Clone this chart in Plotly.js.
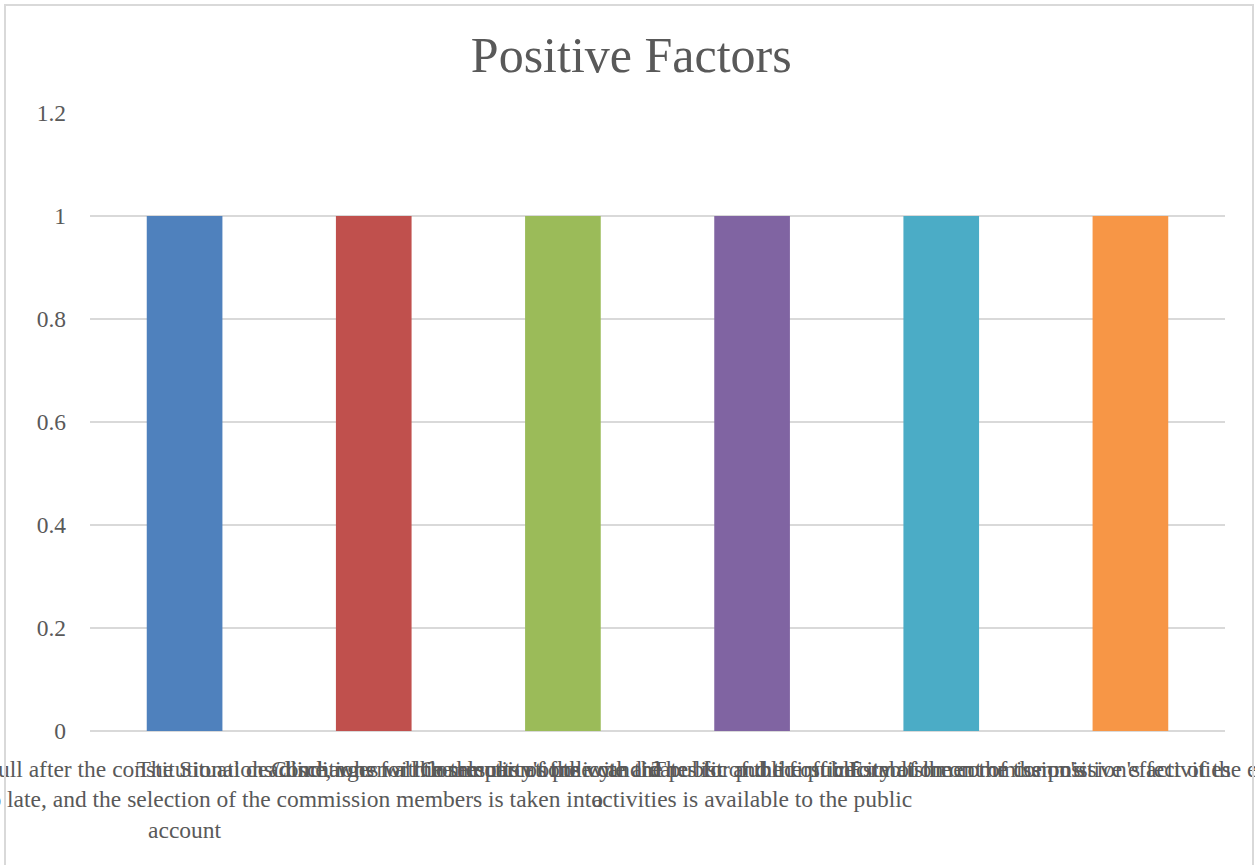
<!DOCTYPE html>
<html>
<head>
<meta charset="utf-8">
<script src="https://cdn.plot.ly/plotly-3.0.1.min.js"></script>
<style>
  html, body { margin: 0; padding: 0; background: #fff; overflow: hidden; }
  #chart { position: absolute; left: 0; top: 0; width: 1255px; height: 865px; }
  #frame { position: absolute; left: 4px; top: 4px; width: 1250px; height: 900px;
           border: 2px solid #d9d9d9; box-sizing: border-box; pointer-events: none; }
</style>
</head>
<body>
<div id="chart"></div>
<div id="frame"></div>
<script>
// ---- data ----
const chartTitle = "Positive Factors";
const categories = [
  "The commission is formed in full after the constitutional deadline, when all the results of the vote are<br>announced and is not too late, and the selection of the commission members is taken into<br>account",
  "The Situations/discharges within the party's policy",
  "Conditions for the selection of the candidates for public office",
  "Communications with the public and the publicity of the commission's<br>activities is available to the public",
  "The list of the first information on the commission's activities",
  "Establishment of the positive effect of the election activities"
];
const values = [1, 1, 1, 1, 1, 1];
const barColors = ["#4F81BD", "#C0504D", "#9BBB59", "#8064A2", "#4BACC6", "#F79646"];
const yTickVals = [0, 0.2, 0.4, 0.6, 0.8, 1, 1.2];

const textColor = "#595959";
const fontFamily = "'Liberation Serif', 'DejaVu Serif', serif";

const trace = {
  type: "bar",
  x: categories,
  y: values,
  marker: { color: barColors },
  hoverinfo: "x+y"
};

const layout = {
  width: 1255,
  height: 865,
  paper_bgcolor: "#ffffff",
  plot_bgcolor: "#ffffff",
  margin: { l: 90, r: 30, t: 113, b: 134 },
  bargap: 0.6,
  showlegend: false,
  font: { family: fontFamily, color: textColor, size: 23.5 },
  title: {
    text: chartTitle,
    font: { family: fontFamily, size: 50, color: textColor },
    xref: "container", x: 0.503,
    yref: "container", y: 1 - 54 / 865, yanchor: "middle"
  },
  xaxis: {
    type: "category",
    tickangle: 0,
    showgrid: false,
    showline: false,
    ticks: "",
    tickfont: { family: fontFamily, size: 23.5, color: textColor },
    ticklabelstandoff: 21,
    automargin: false
  },
  yaxis: {
    range: [0, 1.2],
    tickvals: yTickVals,
    showgrid: true,
    gridcolor: "#d9d9d9",
    gridwidth: 1.5,
    zeroline: true,
    zerolinecolor: "#d9d9d9",
    zerolinewidth: 1.5,
    showline: false,
    ticks: "",
    tickfont: { family: fontFamily, size: 23.5, color: textColor },
    ticklabelstandoff: 23,
    automargin: false
  }
};

Plotly.newPlot("chart", [trace], layout, { displayModeBar: false, staticPlot: true });
</script>
</body>
</html>
